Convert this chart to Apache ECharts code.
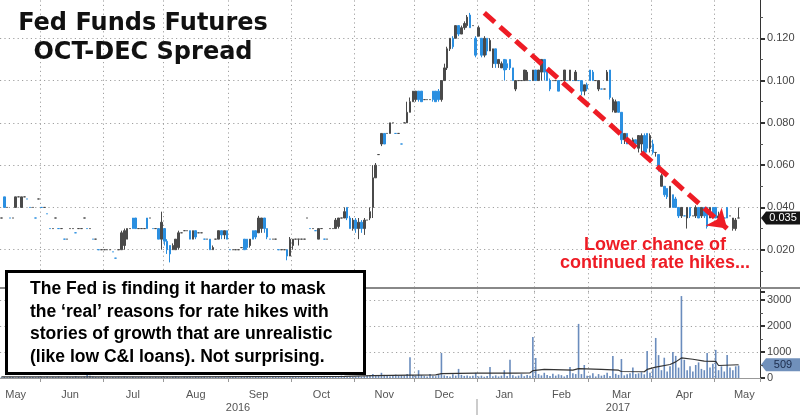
<!DOCTYPE html>
<html>
<head>
<meta charset="utf-8">
<title>Fed Funds Futures OCT-DEC Spread</title>
<script src="https://cdn.jsdelivr.net/npm/echarts@6/dist/echarts.min.js"></script>
<style>
html,body{margin:0;padding:0;background:#fff;}
#chart{width:800px;height:415px;}
</style>
</head>
<body>
<div id="chart"></div>
<script>
// months on the x axis, counted in trading days
var monthNames = ['May','Jun','Jul','Aug','Sep','Oct','Nov','Dec','Jan','Feb','Mar','Apr','May'];
var monthYears = [2016,2016,2016,2016,2016,2016,2016,2016,2017,2017,2017,2017,2017];
var monthDays  = [14,22,21,23,22,22,21,22,20,19,22,22,16];
// day index where each month name is written
var monthLabelIdx = [5,24,46,68,90,112,134,155,176,196,217,239,260];
var yearLabels = ['2016','2017'];

// spread candles in thousandths: [open, close, low, high], a single number is a flat day
var may16 = [35,[45,40,40,45],40,35,35,[40,45,40,45],45,[40,45,40,45],45,44,40,40,35,44];
var jun16 = [40,40,37,30,30,35,30,30,25,25,30,30,28,30,30,35,30,30,25,25,20,20];
var jul16 = [20,20,20,19,16,20,[20,28,20,29],[22,29,20,30],[25,30,25,30],30,[35,30,30,35],[35,30,30,35],
             30,30,30,[35,30,30,35],35,30,30,[30,25,25,30],[25,33,20,38]];
var aug16 = [[30,24,22,30],[24,20,18,25],[22,18,14,22],[20,22,20,23],[20,25,20,25],[21,28,20,29],28,29,29,
             [29,25,25,29],[25,29,25,29],[29,26,25,29],28,28,25,25,[25,20,20,25],[20,21,20,22],25,
             [25,29,25,29],[29,27,25,29],[27,29,25,29],[29,25,25,29]];
var sep16 = [20,20,20,20,21,[25,20,20,25],[25,21,20,25],[22,25,21,25],[29,25,25,29],[29,26,25,29],
             [28,35,28,36],[30,35,28,35],[35,30,28,35],[30,26,25,30],25,25,25,20,20,20,[20,17,15,20],[17,25,17,26]];
var oct16 = [[22,25,20,25],25,[25,25,22,25],25,25,35,30,30,29,[25,30,25,30],30,25,25,30,30,
             [30,34,30,35],[31,35,30,35],35,[35,38,35,40],[40,35,34,40],[35,30,30,36],[30,34,29,35]];
var nov16 = [[34,30,28,35],[30,33,25,35],[33,30,28,34],[30,34,27,35],34,[35,38,34,40],[40,54,35,60],
             [54,60,54,61],65,[70,75,69,75],[75,70,70,75],75,[75,80,75,80],80,75,75,70,80,
             [80,85,80,90],[85,90,85,92],[90,95,90,95]];
var dec16 = [[91,95,90,95],[95,91,90,95],[95,90,90,95],91,91,91,[95,91,90,95],[95,90,90,95],[95,91,90,96],
             [91,100,90,100],[100,106,100,108],[106,115,105,116],[115,120,114,120],[120,116,115,121],
             [120,126,120,126],[126,122,121,126],[122,125,122,126],[125,127,124,128],[126,130,125,131],
             [131,125,125,132],126,[120,112,111,121]];
var jan17 = [[121,125,121,126],[120,112,111,120],[112,120,111,121],[120,114,112,120],[114,119,114,120],
             [108,115,106,115],[115,108,106,115],[108,110,106,110],[106,108,106,109],[110,105,100,110],
             [108,106,105,110],[110,106,105,110],[106,100,100,106],[96,100,95,100],100,100,
             [100,105,100,105],[100,104,100,105],100,[100,105,100,105]];
var feb17 = [[105,100,100,105],[100,105,100,105],[104,110,100,110],[110,104,100,110],[104,100,100,105],
             [100,96,95,101],100,100,[100,95,95,100],100,[100,105,100,105],100,[100,105,100,105],100,
             [100,104,100,105],100,[100,95,93,100],[95,98,93,98],[98,96,95,99]];
var mar17 = [[105,100,100,105],[104,100,100,105],100,[96,100,95,100],96,96,[100,104,100,105],[105,92,91,105],
             [86,91,85,92],[85,90,85,91],[90,85,85,90],[85,72,70,85],[72,75,70,75],[75,70,70,75],70,
             [70,72,70,73],[72,70,69,72],[68,74,66,74],[70,74,66,75],[74,66,65,75],[75,68,66,75],[68,74,66,75]];
var apr17 = [[70,66,65,72],[66,66,64,66],[65,58,57,65],[50,55,50,56],[50,46,45,50],[49,45,44,49],[40,50,40,50],
             [46,40,40,46],[44,40,40,45],[40,36,35,40],[36,40,35,40],36,[35,40,30,40],[40,36,35,40],36,
             [36,40,35,41],[40,35,35,40],[36,40,35,40],[40,36,35,40],[40,31,30,40],[35,40,35,40],[40,36,35,40]];
var may17 = [[40,35,35,40],[35,36,35,38],36,35,[40,35,35,40],36,[30,35,29,35],[30,34,29,35],[35,35,35,40]];

// daily volume
var volMay16 = [30,40,25,50,35,20,45,30,60,25,40,35,30,50];
var volJun16 = [40,30,55,25,45,35,60,30,20,50,40,35,70,45,30,55,120,90,60,40,35,50];
var volJul16 = [30,45,25,40,35,50,30,60,40,25,45,30,35,55,40,30,50,25,45,35,40];
var volAug16 = [35,50,30,45,60,40,25,55,35,45,30,50,40,35,60,30,45,25,50,40,35,55,30];
var volSep16 = [45,35,60,30,50,40,35,55,30,45,70,40,35,50,30,60,40,45,35,50,30,55];
var volOct16 = [40,60,35,50,45,70,40,55,35,60,45,80,50,40,65,45,55,90,60,50,70,45];
var volNov16 = [60,80,50,70,90,120,150,110,80,200,120,90,70,100,130,80,110,90,150,800,120];
var volDec16 = [90,300,110,80,60,150,90,70,120,960,100,80,60,140,90,350,120,80,100,70,90,200];
var volJan17 = [60,90,50,80,420,70,100,60,90,300,80,700,110,60,90,150,70,120,90,1580];
var volFeb17 = [770,150,100,200,120,80,160,90,140,110,60,120,420,180,150,2080,150,500,90];
var volMar17 = [100,180,60,150,90,120,200,80,850,160,120,730,100,140,180,400,150,180,220,140,1040,200];
var volApr17 = [350,1540,880,300,780,250,450,1000,850,400,3150,700,300,450,250,500,600,350,300,960,400,550];
var volMay17 = [1080,300,450,250,880,400,300,450,480];

// volume moving average as [day index, value]
var volAvg = [[0,40],[60,45],[120,60],[130,90],[143,110],[152,120],[154,170],[166,190],[180,190],[185,200],
              [186,280],[190,330],[200,300],[202,360],[210,330],[216,300],[217,250],[225,240],[226,330],
              [229,420],[234,520],[236,620],[238,770],[242,720],[246,650],[250,640],[251,480],[258,509]];

var lastSpread = 0.035;
var lastVolAvg = 509;

// arrow drawn over the slide: [day index, spread]
var trendFrom = [169, 0.132];
var trendTo = [254, 0.030];

var categories = [];
var monthStart = {};
var labelAt = {};
var n = 0;
for (var m = 0; m < monthNames.length; m++) {
    if (m > 0) monthStart[n] = true;
    for (var d = 1; d <= monthDays[m]; d++) {
        categories.push(monthNames[m] + ' ' + monthYears[m] + ' ' + d);
        n++;
    }
}
monthLabelIdx.forEach(function (i) { labelAt[i] = true; });

var spreadDays = [].concat(may16, jun16, jul16, aug16, sep16, oct16, nov16, dec16, jan17, feb17, mar17, apr17, may17);
var candles = spreadDays.map(function (v) {
    var a = Array.isArray(v) ? v : [v, v, v, v];
    return a.map(function (x) { return x / 1000; });
});
var volume = [].concat(volMay16, volJun16, volJul16, volAug16, volSep16, volOct16, volNov16,
    volDec16, volJan17, volFeb17, volMar17, volApr17, volMay17);

function isMonthStart(i) { return monthStart[i] === true; }

var dots = {color: '#a0a0a0', type: [1.2, 3.2], width: 1};
var labelFont = '"Liberation Sans", Arial, sans-serif';

var chart = echarts.init(document.getElementById('chart'));
var option = {
    animation: false,
    backgroundColor: '#fff',
    grid: [
        {left: 0, right: 40, top: -4, height: 296, containLabel: false, outerBoundsMode: 'none'},
        {left: 0, right: 40, top: 288, height: 90, containLabel: false, outerBoundsMode: 'none'}
    ],
    xAxis: [
        {
            type: 'category', gridIndex: 0, data: categories, boundaryGap: true,
            axisLine: {show: false}, axisTick: {show: false}, axisLabel: {show: false},
            splitLine: {show: true, interval: isMonthStart, lineStyle: dots}
        },
        {
            type: 'category', gridIndex: 1, data: categories, boundaryGap: true,
            axisLine: {show: true, lineStyle: {color: '#999'}},
            axisTick: {show: true, interval: isMonthStart, length: 4, lineStyle: {color: '#999'}},
            axisLabel: {
                interval: function (i) { return labelAt[i] === true; },
                formatter: function (v) { return v.split(' ')[0]; },
                color: '#555', fontSize: 11, fontFamily: labelFont, margin: 11
            },
            splitLine: {show: true, interval: isMonthStart, lineStyle: dots}
        }
    ],
    yAxis: [
        {
            type: 'value', gridIndex: 0, position: 'right',
            min: 0, max: 0.14, interval: 0.02,
            axisLine: {show: true, lineStyle: {color: '#333'}},
            axisTick: {show: true, length: 5, lineStyle: {color: '#333', width: 2}},
            minorTick: {show: true, splitNumber: 2, length: 3, lineStyle: {color: '#555'}},
            axisLabel: {
                formatter: function (v) { return v.toFixed(3); },
                color: '#444', fontSize: 11, fontFamily: labelFont, margin: 7, showMinLabel: false
            },
            splitLine: {show: true, showMinLine: false, lineStyle: dots}
        },
        {
            type: 'value', gridIndex: 1, position: 'right',
            min: 0, max: 3460, interval: 1000,
            axisLine: {show: true, lineStyle: {color: '#333'}},
            axisTick: {show: true, length: 5, lineStyle: {color: '#333', width: 2}},
            minorTick: {show: true, splitNumber: 2, length: 3, lineStyle: {color: '#555'}},
            axisLabel: {
                formatter: function (v) { return String(v); },
                color: '#444', fontSize: 11, fontFamily: labelFont, margin: 7, showMaxLabel: false
            },
            splitLine: {show: true, showMinLine: false, showMaxLine: false, lineStyle: dots}
        }
    ],
    series: [
        {
            type: 'candlestick', xAxisIndex: 0, yAxisIndex: 0, data: candles, barWidth: 2,
            itemStyle: {color: '#4a4a4a', color0: '#2b8fe0', borderColor: '#4a4a4a', borderColor0: '#2b8fe0', borderWidth: 1},
            markLine: {
                silent: true, symbol: ['none', 'arrow'], symbolSize: 18,
                label: {show: false},
                lineStyle: {color: '#ee1c25', width: 5, type: [14, 7]},
                data: [[{coord: trendFrom}, {coord: trendTo}]]
            }
        },
        {
            type: 'bar', xAxisIndex: 1, yAxisIndex: 1, data: volume, barWidth: 1.6,
            itemStyle: {color: '#6a8cbd'}
        },
        {
            type: 'line', xAxisIndex: 1, yAxisIndex: 1, data: volAvg, showSymbol: false,
            lineStyle: {color: '#333', width: 1.2}
        }
    ]
};
chart.setOption(option);

function valueTag(y, text, fill, textColor) {
    return {
        type: 'group', z: 100, children: [
            {type: 'polygon', shape: {points: [[761, y], [766, y - 6.5], [800, y - 6.5], [800, y + 6.5], [766, y + 6.5]]}, style: {fill: fill}},
            {type: 'text', style: {text: text, x: 783, y: y, font: '11px ' + labelFont, fill: textColor, align: 'center', verticalAlign: 'middle'}}
        ]
    };
}

var ySpread = chart.convertToPixel({yAxisIndex: 0}, lastSpread);
var yVol = chart.convertToPixel({yAxisIndex: 1}, lastVolAvg);

var graphics = [
    // panel separator
    {type: 'line', z: 50, shape: {x1: 0, y1: 288, x2: 800, y2: 288}, style: {stroke: '#888', lineWidth: 2}},
    // title
    {type: 'text', z: 100, style: {text: 'Fed Funds Futures', x: 143, y: 24, font: 'bold 24px "DejaVu Sans", Verdana, sans-serif', fill: '#111', align: 'center', verticalAlign: 'middle'}},
    {type: 'text', z: 100, style: {text: 'OCT-DEC Spread', x: 143, y: 53, font: 'bold 24px "DejaVu Sans", Verdana, sans-serif', fill: '#111', align: 'center', verticalAlign: 'middle'}},
    // comment box
    {type: 'rect', z: 100, shape: {x: 6.5, y: 271.5, width: 358, height: 102}, style: {fill: '#fff', stroke: '#000', lineWidth: 3}},
    {type: 'text', z: 101, style: {
        text: 'The Fed is finding it harder to mask\nthe \u2018real\u2019 reasons for rate hikes with\nstories of growth that are unrealistic\n(like low C&I loans). Not surprising.',
        x: 30, y: 278, font: 'bold 17.5px ' + labelFont, lineHeight: 22.5, fill: '#000', verticalAlign: 'top'}},
    // red note
    {type: 'text', z: 100, style: {text: 'Lower chance of', x: 655, y: 245, font: 'bold 18px ' + labelFont, fill: '#ee1c25', align: 'center', verticalAlign: 'middle'}},
    {type: 'text', z: 100, style: {text: 'continued rate hikes...', x: 655, y: 263, font: 'bold 18px ' + labelFont, fill: '#ee1c25', align: 'center', verticalAlign: 'middle'}},
    // years
    {type: 'text', z: 100, style: {text: yearLabels[0], x: 238, y: 408, font: '11px ' + labelFont, fill: '#555', align: 'center', verticalAlign: 'middle'}},
    {type: 'text', z: 100, style: {text: yearLabels[1], x: 618, y: 408, font: '11px ' + labelFont, fill: '#555', align: 'center', verticalAlign: 'middle'}},
    {type: 'line', z: 100, shape: {x1: 477, y1: 399, x2: 477, y2: 415}, style: {stroke: '#999', lineWidth: 1}},
    valueTag(ySpread, lastSpread.toFixed(3), '#151515', '#fff'),
    valueTag(yVol, String(lastVolAvg), '#7090bb', '#1b2b4b')
];
chart.setOption({graphic: graphics});
</script>
</body>
</html>
